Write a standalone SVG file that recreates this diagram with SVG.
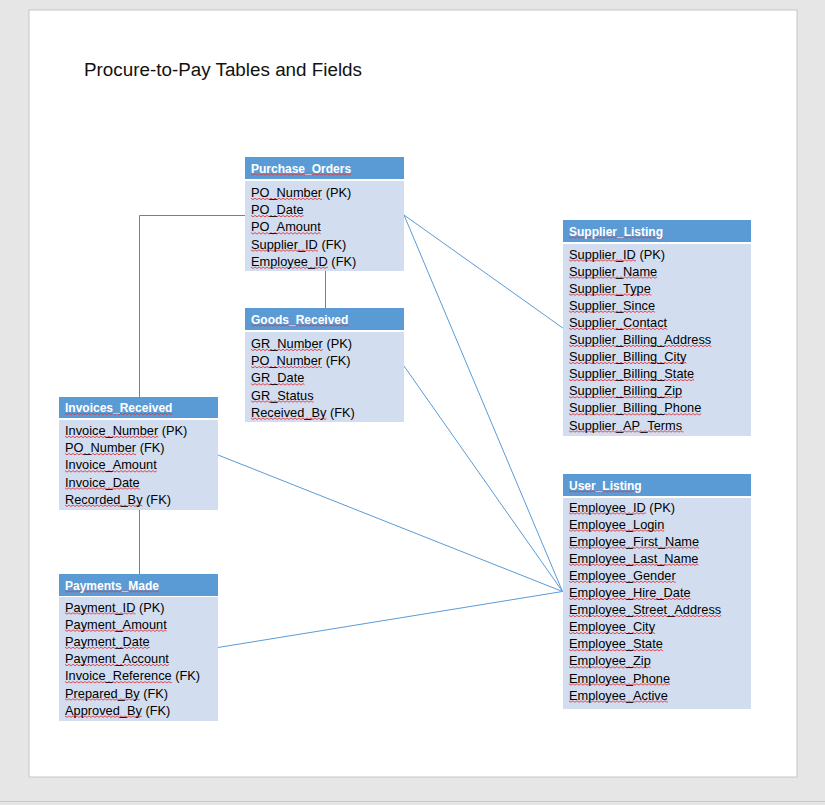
<svg xmlns="http://www.w3.org/2000/svg" width="825" height="805" viewBox="0 0 825 805">
<style>
.hd{fill:#5b9bd5}
.bd{fill:#d2ddef}
.ht{font-family:"Liberation Sans",Arial,sans-serif;font-size:12px;font-weight:bold;fill:#ffffff}
.ft{font-family:"Liberation Sans",Arial,sans-serif;font-size:12.8px;fill:#000000}
.sq{fill:none;stroke:#e23a3f;stroke-width:0.9}
.cn{fill:none;stroke:#5b9bd5;stroke-width:1}
.cg{fill:none;stroke:#5a86bd;stroke-width:1}
</style>
<defs>
<path id="zz" d="M0,0 l2,1.5 2,-1.5 2,1.5 2,-1.5 2,1.5 2,-1.5 2,1.5 2,-1.5 2,1.5 2,-1.5 2,1.5 2,-1.5 2,1.5 2,-1.5 2,1.5 2,-1.5 2,1.5 2,-1.5 2,1.5 2,-1.5 2,1.5 2,-1.5 2,1.5 2,-1.5 2,1.5 2,-1.5 2,1.5 2,-1.5 2,1.5 2,-1.5 2,1.5 2,-1.5 2,1.5 2,-1.5 2,1.5 2,-1.5 2,1.5 2,-1.5 2,1.5 2,-1.5 2,1.5 2,-1.5 2,1.5 2,-1.5 2,1.5 2,-1.5 2,1.5 2,-1.5 2,1.5 2,-1.5 2,1.5 2,-1.5 2,1.5 2,-1.5 2,1.5 2,-1.5 2,1.5 2,-1.5 2,1.5 2,-1.5 2,1.5 2,-1.5 2,1.5 2,-1.5 2,1.5 2,-1.5 2,1.5 2,-1.5 2,1.5 2,-1.5 2,1.5 2,-1.5 2,1.5 2,-1.5 2,1.5 2,-1.5 2,1.5 2,-1.5 2,1.5 2,-1.5 2,1.5 2,-1.5"/>
</defs>
<rect x="0" y="0" width="825" height="805" fill="#e6e6e6"/>
<rect x="29" y="10" width="768" height="767" fill="#ffffff" stroke="#c6c6c6" stroke-width="1"/>
<line x1="0" y1="801.5" x2="825" y2="801.5" stroke="#c8c8c8" stroke-width="1"/>
<text x="84" y="76" font-family="'Liberation Sans',Arial,sans-serif" font-size="18" fill="#111111" textLength="278" lengthAdjust="spacingAndGlyphs">Procure-to-Pay Tables and Fields</text>

<g id="connectors">
<polyline class="cg" points="245,215.5 139.5,215.5 139.5,397"/>
<line class="cg" x1="325.5" y1="271" x2="325.5" y2="308"/>
<line class="cg" x1="139.5" y1="510" x2="139.5" y2="574"/>
<line class="cn" x1="404" y1="215" x2="563.5" y2="328.5"/>
<line class="cn" x1="404" y1="215" x2="562.5" y2="591.5"/>
<line class="cn" x1="404" y1="366" x2="562.5" y2="591.5"/>
<line class="cn" x1="218" y1="455" x2="562.5" y2="591.5"/>
<line class="cn" x1="218" y1="647.5" x2="562.5" y2="591.5"/>
</g>

<g id="purchase_orders">
<rect class="hd" x="245" y="157" width="159" height="22"/>
<rect class="bd" x="245" y="181" width="159" height="90"/>
<use href="#zz" class="sq" x="251" y="173.7" style="stroke-dasharray:125 999"/>
<use href="#zz" class="sq" x="251" y="198.2" style="stroke-dasharray:88.9 999"/>
<use href="#zz" class="sq" x="251" y="215.4" style="stroke-dasharray:65.8 999"/>
<use href="#zz" class="sq" x="251" y="232.6" style="stroke-dasharray:87.1 999"/>
<use href="#zz" class="sq" x="251" y="249.8" style="stroke-dasharray:83.6 999"/>
<use href="#zz" class="sq" x="251" y="267" style="stroke-dasharray:96 999"/>
<text class="ht" x="251" y="172.5">Purchase_Orders</text>
<text class="ft" x="251" y="197">PO_Number (PK)</text>
<text class="ft" x="251" y="214.2">PO_Date</text>
<text class="ft" x="251" y="231.4">PO_Amount</text>
<text class="ft" x="251" y="248.6">Supplier_ID (FK)</text>
<text class="ft" x="251" y="265.8">Employee_ID (FK)</text>
</g>

<g id="goods_received">
<rect class="hd" x="245" y="308" width="159" height="22"/>
<rect class="bd" x="245" y="332" width="159" height="90"/>
<use href="#zz" class="sq" x="251" y="324.7" style="stroke-dasharray:121.8 999"/>
<use href="#zz" class="sq" x="251" y="349.2" style="stroke-dasharray:89.8 999"/>
<use href="#zz" class="sq" x="251" y="366.4" style="stroke-dasharray:88.9 999"/>
<use href="#zz" class="sq" x="251" y="383.6" style="stroke-dasharray:66.8 999"/>
<use href="#zz" class="sq" x="251" y="400.8" style="stroke-dasharray:78.3 999"/>
<use href="#zz" class="sq" x="251" y="418" style="stroke-dasharray:94.3 999"/>
<text class="ht" x="251" y="323.5">Goods_Received</text>
<text class="ft" x="251" y="348">GR_Number (PK)</text>
<text class="ft" x="251" y="365.2">PO_Number (FK)</text>
<text class="ft" x="251" y="382.4">GR_Date</text>
<text class="ft" x="251" y="399.6">GR_Status</text>
<text class="ft" x="251" y="416.8">Received_By (FK)</text>
</g>

<g id="invoices_received">
<rect class="hd" x="59" y="397" width="159" height="21"/>
<rect class="bd" x="59" y="420" width="159" height="90"/>
<use href="#zz" class="sq" x="65" y="413.2" style="stroke-dasharray:134.3 999"/>
<use href="#zz" class="sq" x="65" y="436.2" style="stroke-dasharray:116.5 999"/>
<use href="#zz" class="sq" x="65" y="453.4" style="stroke-dasharray:88.9 999"/>
<use href="#zz" class="sq" x="65" y="470.6" style="stroke-dasharray:114.8 999"/>
<use href="#zz" class="sq" x="65" y="487.8" style="stroke-dasharray:93.4 999"/>
<use href="#zz" class="sq" x="65" y="505" style="stroke-dasharray:96.9 999"/>
<text class="ht" x="65" y="412">Invoices_Received</text>
<text class="ft" x="65" y="435">Invoice_Number (PK)</text>
<text class="ft" x="65" y="452.2">PO_Number (FK)</text>
<text class="ft" x="65" y="469.4">Invoice_Amount</text>
<text class="ft" x="65" y="486.6">Invoice_Date</text>
<text class="ft" x="65" y="503.8">Recorded_By (FK)</text>
</g>

<g id="payments_made">
<rect class="hd" x="59" y="574" width="159" height="22"/>
<rect class="bd" x="59" y="597" width="159" height="124"/>
<use href="#zz" class="sq" x="65" y="590.7" style="stroke-dasharray:117.5 999"/>
<use href="#zz" class="sq" x="65" y="612.7" style="stroke-dasharray:88 999"/>
<use href="#zz" class="sq" x="65" y="629.9" style="stroke-dasharray:127.1 999"/>
<use href="#zz" class="sq" x="65" y="647.1" style="stroke-dasharray:105.9 999"/>
<use href="#zz" class="sq" x="65" y="664.3" style="stroke-dasharray:129.9 999"/>
<use href="#zz" class="sq" x="65" y="681.5" style="stroke-dasharray:133.4 999"/>
<use href="#zz" class="sq" x="65" y="698.7" style="stroke-dasharray:93.4 999"/>
<use href="#zz" class="sq" x="65" y="715.9" style="stroke-dasharray:96 999"/>
<text class="ht" x="65" y="589.5">Payments_Made</text>
<text class="ft" x="65" y="611.5">Payment_ID (PK)</text>
<text class="ft" x="65" y="628.7">Payment_Amount</text>
<text class="ft" x="65" y="645.9">Payment_Date</text>
<text class="ft" x="65" y="663.1">Payment_Account</text>
<text class="ft" x="65" y="680.3">Invoice_Reference (FK)</text>
<text class="ft" x="65" y="697.5">Prepared_By (FK)</text>
<text class="ft" x="65" y="714.7">Approved_By (FK)</text>
</g>

<g id="supplier_listing">
<rect class="hd" x="563" y="220" width="188" height="22"/>
<rect class="bd" x="563" y="244" width="188" height="192"/>
<use href="#zz" class="sq" x="569" y="236.7" style="stroke-dasharray:117.5 999"/>
<use href="#zz" class="sq" x="569" y="259.7" style="stroke-dasharray:83.6 999"/>
<use href="#zz" class="sq" x="569" y="276.8" style="stroke-dasharray:110.3 999"/>
<use href="#zz" class="sq" x="569" y="293.9" style="stroke-dasharray:103.1 999"/>
<use href="#zz" class="sq" x="569" y="311" style="stroke-dasharray:107.6 999"/>
<use href="#zz" class="sq" x="569" y="328.1" style="stroke-dasharray:122.8 999"/>
<use href="#zz" class="sq" x="569" y="345.2" style="stroke-dasharray:177.9 999"/>
<use href="#zz" class="sq" x="569" y="362.3" style="stroke-dasharray:146.8 999"/>
<use href="#zz" class="sq" x="569" y="379.4" style="stroke-dasharray:156.5 999"/>
<use href="#zz" class="sq" x="569" y="396.5" style="stroke-dasharray:141.4 999"/>
<use href="#zz" class="sq" x="569" y="413.6" style="stroke-dasharray:165.4 999"/>
<use href="#zz" class="sq" x="569" y="430.7" style="stroke-dasharray:143.1 999"/>
<text class="ht" x="569" y="235.5">Supplier_Listing</text>
<text class="ft" x="569" y="258.5">Supplier_ID (PK)</text>
<text class="ft" x="569" y="275.6">Supplier_Name</text>
<text class="ft" x="569" y="292.7">Supplier_Type</text>
<text class="ft" x="569" y="309.8">Supplier_Since</text>
<text class="ft" x="569" y="326.9">Supplier_Contact</text>
<text class="ft" x="569" y="344">Supplier_Billing_Address</text>
<text class="ft" x="569" y="361.1">Supplier_Billing_City</text>
<text class="ft" x="569" y="378.2">Supplier_Billing_State</text>
<text class="ft" x="569" y="395.3">Supplier_Billing_Zip</text>
<text class="ft" x="569" y="412.4">Supplier_Billing_Phone</text>
<text class="ft" x="569" y="429.5">Supplier_AP_Terms</text>
</g>

<g id="user_listing">
<rect class="hd" x="563" y="474" width="188" height="22"/>
<rect class="bd" x="563" y="498" width="188" height="211"/>
<use href="#zz" class="sq" x="569" y="490.7" style="stroke-dasharray:90.9 999"/>
<use href="#zz" class="sq" x="569" y="512.7" style="stroke-dasharray:96 999"/>
<use href="#zz" class="sq" x="569" y="529.8" style="stroke-dasharray:119.1 999"/>
<use href="#zz" class="sq" x="569" y="546.9" style="stroke-dasharray:162.8 999"/>
<use href="#zz" class="sq" x="569" y="564" style="stroke-dasharray:161.9 999"/>
<use href="#zz" class="sq" x="569" y="581.1" style="stroke-dasharray:133.4 999"/>
<use href="#zz" class="sq" x="569" y="598.2" style="stroke-dasharray:152 999"/>
<use href="#zz" class="sq" x="569" y="615.3" style="stroke-dasharray:190.3 999"/>
<use href="#zz" class="sq" x="569" y="632.4" style="stroke-dasharray:107.6 999"/>
<use href="#zz" class="sq" x="569" y="649.5" style="stroke-dasharray:117.4 999"/>
<use href="#zz" class="sq" x="569" y="666.6" style="stroke-dasharray:102.3 999"/>
<use href="#zz" class="sq" x="569" y="683.7" style="stroke-dasharray:126.3 999"/>
<use href="#zz" class="sq" x="569" y="700.8" style="stroke-dasharray:123.6 999"/>
<text class="ht" x="569" y="489.5">User_Listing</text>
<text class="ft" x="569" y="511.5">Employee_ID (PK)</text>
<text class="ft" x="569" y="528.6">Employee_Login</text>
<text class="ft" x="569" y="545.7">Employee_First_Name</text>
<text class="ft" x="569" y="562.8">Employee_Last_Name</text>
<text class="ft" x="569" y="579.9">Employee_Gender</text>
<text class="ft" x="569" y="597">Employee_Hire_Date</text>
<text class="ft" x="569" y="614.1">Employee_Street_Address</text>
<text class="ft" x="569" y="631.2">Employee_City</text>
<text class="ft" x="569" y="648.3">Employee_State</text>
<text class="ft" x="569" y="665.4">Employee_Zip</text>
<text class="ft" x="569" y="682.5">Employee_Phone</text>
<text class="ft" x="569" y="699.6">Employee_Active</text>
</g>
</svg>
